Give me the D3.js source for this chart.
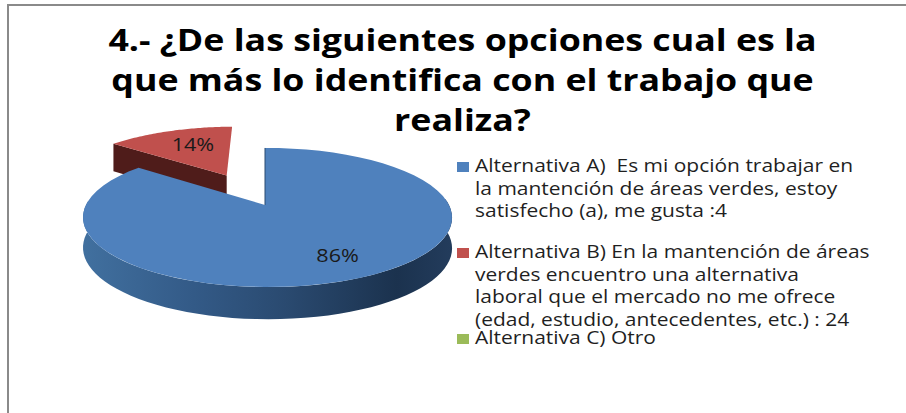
<!DOCTYPE html>
<html><head><meta charset="utf-8">
<script src="https://cdn.jsdelivr.net/npm/d3@7"></script>
<style>html,body{margin:0;padding:0;background:#fff}svg{display:block}text{font-family:"Open Sans",sans-serif;white-space:pre}</style>
</head><body><script>
const titleLines = ["4.- ¿De las siguientes opciones cual es la","que más lo identifica con el trabajo que","realiza?"];
const categories = ["Alternativa A","Alternativa B","Alternativa C"];
const values = [24,4,0];
const colors = ["#4f81bd","#c0504d","#9bbb59"];
const legendLines = [
 ["Alternativa A)  Es mi opción trabajar en","la mantención de áreas verdes, estoy","satisfecho (a), me gusta :4"],
 ["Alternativa B) En la mantención de áreas","verdes encuentro una alternativa","laboral que el mercado no me ofrece","(edad, estudio, antecedentes, etc.) : 24"],
 ["Alternativa C) Otro"]
];
const W=906,H=413;
const svg=d3.select("body").append("svg").attr("width",W).attr("height",H);
const defs=svg.append("defs");
const g=defs.append("linearGradient").attr("id","side").attr("gradientUnits","userSpaceOnUse").attr("x1",83).attr("x2",452).attr("y1",0).attr("y2",0);
[[0,"#41709f"],[.3,"#335a87"],[.55,"#2a4a70"],[.85,"#1b324e"],[1,"#233c5c"]].forEach(s=>g.append("stop").attr("offset",s[0]).attr("stop-color",s[1]));

svg.append("path").attr("d","M8,413V5H906").attr("fill","none").attr("stroke","#8a8a8a").attr("stroke-width",2);

// projection of the pie's unit disc
const ax=265,ay=205,R=181.5,F=67.3,K=.18,M=-.0135;
const proj=(u,v,z=0)=>{const w=1+K*v+M*u;return [ax+R*u/w, ay-F*v/w+z*(30-12*(w-1))];};
const pie=d3.pie().sort(null).value(d=>d)(values);
const total=d3.sum(values);
const line=d3.line();
const explode=[0,.53,0];
function off(d,i){const m=(d.startAngle+d.endAngle)/2;return [explode[i]*Math.sin(m),explode[i]*Math.cos(m)];}
function rim(d,i,a0,a1,z=0,r=1){const [ox,oy]=off(d,i);return d3.range(0,61).map(k=>{const t=a0+(a1-a0)*k/60;return proj(ox+r*Math.sin(t),oy+r*Math.cos(t),z);});}

// red wedge walls then top
const red=pie[1],blue=pie[0];
const rc=off(red,1);
svg.append("path").attr("fill","#4f1c1a").attr("d",line([proj(rc[0]+Math.sin(red.startAngle),rc[1]+Math.cos(red.startAngle)),proj(rc[0],rc[1]),proj(rc[0],rc[1],1),proj(rc[0]+Math.sin(red.startAngle),rc[1]+Math.cos(red.startAngle),1)])+"Z");
svg.append("path").attr("fill",colors[1]).attr("d",line([proj(rc[0],rc[1]),...rim(red,1,red.startAngle,red.endAngle)])+"Z");
// blue wall
const a0=Math.PI*.47,a1=Math.min(blue.endAngle,Math.PI*1.52);
svg.append("path").attr("fill","url(#side)").attr("d",line([...rim(blue,0,a0,a1),...rim(blue,0,a0,a1,1).reverse()])+"Z");
svg.append("path").attr("fill",colors[0]).attr("d",line([proj(0,0),...rim(blue,0,blue.startAngle,blue.endAngle)])+"Z");
svg.append("path").attr("fill","none").attr("stroke","#2b4a70").attr("stroke-width",1).attr("d",line([proj(0,1),proj(0,0)]));

// percentage labels
const fmt=d3.format(".0%");
pie.filter(d=>d.value>0).forEach(d=>{
  const i=d.index,[ox,oy]=off(d,i),m=(d.startAngle+d.endAngle)/2,r=i==0?.74:.66;
  const p=proj(ox+r*Math.sin(m),oy+r*Math.cos(m));
  svg.append("text").attr("transform",`translate(${p[0]+6},${p[1]+6}) scale(1.2,1)`).attr("text-anchor","middle").attr("font-size",18).attr("fill","#1a1a1a").text(fmt(d.value/total));
});

// title
const tCx=462.5,tSx=1.153,tBase=51,tStep=40;
titleLines.forEach((t,i)=>svg.append("text").attr("transform",`translate(${tCx},${tBase+i*tStep}) scale(${tSx},1)`).attr("text-anchor","middle").attr("font-size",31).attr("font-weight",700).attr("fill","#000").text(t));

// legend
const lx=475,mx=457,lSx=1.165,step=22.6,gap=[172,258,344];
legendLines.forEach((ls,i)=>{
  svg.append("rect").attr("x",mx).attr("y",gap[i]-10).attr("width",12).attr("height",10).attr("fill",colors[i]);
  ls.forEach((t,j)=>svg.append("text").attr("transform",`translate(${lx},${gap[i]+j*step}) scale(${lSx},1)`).attr("font-size",18).attr("fill","#1f1f1f").text(t));
});
</script></body></html>
